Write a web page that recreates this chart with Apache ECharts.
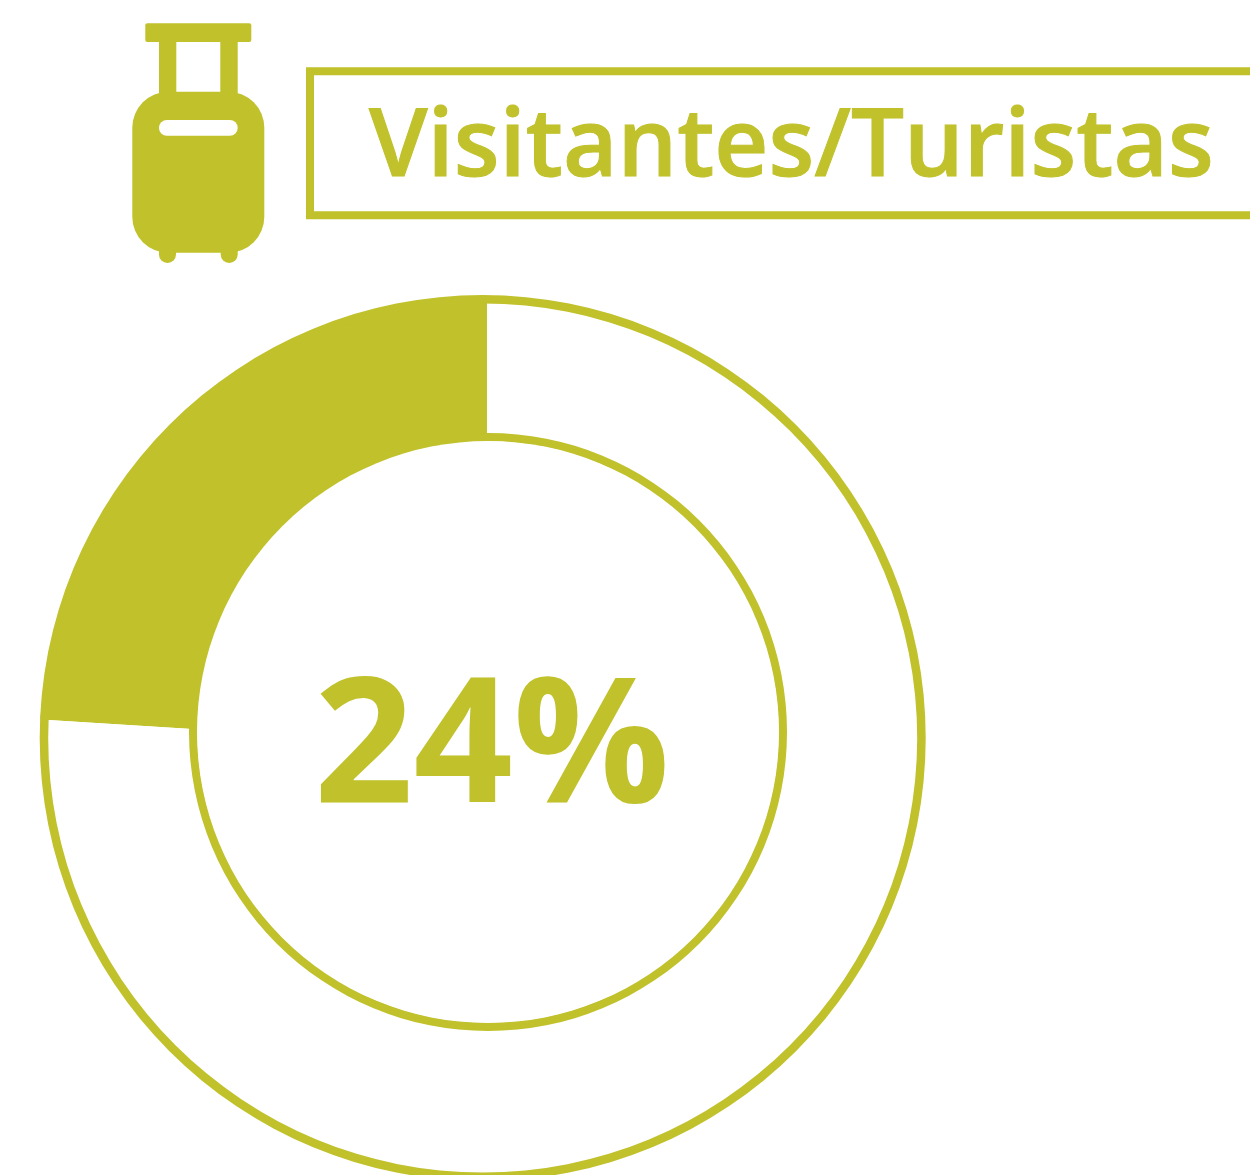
<!DOCTYPE html>
<html>
<head>
<meta charset="utf-8">
<script src="https://cdn.jsdelivr.net/npm/echarts@6/dist/echarts.min.js"></script>
<style>
html,body{margin:0;padding:0;background:#fff;width:1250px;height:1175px;overflow:hidden}
#c{width:1250px;height:1175px}
</style>
</head>
<body>
<div id="c"></div>
<script>
const categories = ['Visitantes/Turistas', 'Otros'];
const values = [24, 76];
const chartTitle = 'Visitantes/Turistas';
const centerLabel = values[0] + '%';

const GREEN = '#c0c12b';
const chart = echarts.init(document.getElementById('c'), null, {renderer: 'canvas'});

const rect = (x0, y0, x1, y1, r, fill) => ({
  type: 'rect', silent: true, z: 10,
  shape: {x: x0, y: y0, width: x1 - x0, height: y1 - y0, r: r || 0},
  style: {fill: fill || GREEN}
});

const base = {type: 'pie', silent: true, animation: false, label: {show: false}, labelLine: {show: false}, startAngle: 90};

chart.setOption({
  backgroundColor: '#fff',
  animation: false,
  series: [
    Object.assign({}, base, {
      name: 'share', clockwise: false, z: 1,
      center: [487, 747.5], radius: [0, 447.5],
      data: categories.map((n, i) => ({
        name: n, value: values[i],
        itemStyle: {color: i === 0 ? GREEN : '#ffffff'}
      }))
    }),
    Object.assign({}, base, {
      name: 'outer ring', z: 2,
      center: [482.7, 738], radius: [434.5, 443],
      data: [{name: 'ring', value: 100, itemStyle: {color: GREEN}}]
    }),
    Object.assign({}, base, {
      name: 'inner ring', z: 3,
      center: [488, 732], radius: [290.5, 299],
      data: [{name: 'ring', value: 100, itemStyle: {color: GREEN}}]
    }),
    Object.assign({}, base, {
      name: 'inner disc', z: 3,
      center: [488, 732], radius: [0, 291],
      data: [{name: 'disc', value: 100, itemStyle: {color: '#ffffff'}}]
    })
  ],
  graphic: [
    {type: 'rect', silent: true, z: 10,
      shape: {x: 310, y: 71.3, width: 1000, height: 144},
      style: {fill: 'none', stroke: GREEN, lineWidth: 8}},
    {type: 'text', silent: true, z: 11,
      style: {x: 369, y: 149, text: chartTitle, fill: GREEN, stroke: GREEN, lineWidth: 1,
        font: '600 94px "Open Sans"', align: 'left', verticalAlign: 'middle'}},
    {type: 'text', silent: true, z: 11,
      style: {x: 314, y: 752, text: centerLabel, fill: GREEN,
        font: '700 174px "Open Sans"', align: 'left', verticalAlign: 'middle'}},
    rect(145.3, 23.3, 251.3, 42, 2),
    rect(159, 40, 176.3, 100),
    rect(220.3, 40, 237.7, 100),
    rect(132.3, 91.7, 264.3, 252.7, 36),
    rect(159, 245, 176, 263, [0, 0, 8.5, 8.5]),
    rect(220.7, 245, 237.7, 263, [0, 0, 8.5, 8.5]),
    Object.assign(rect(159, 120, 237.7, 135.7, 7.8, '#ffffff'), {z: 11})
  ]
});
</script>
</body>
</html>
